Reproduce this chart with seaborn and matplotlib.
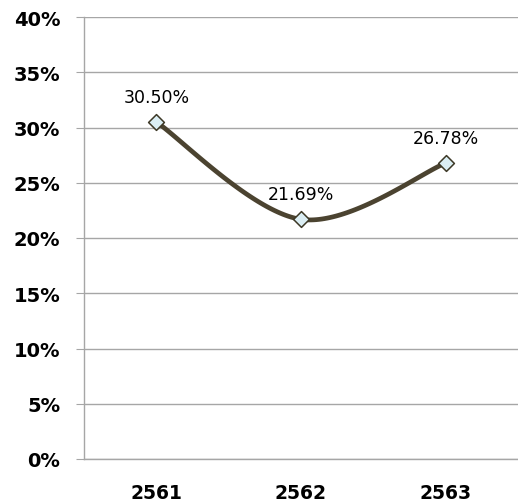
import seaborn as sns
import matplotlib.pyplot as plt
import pandas as pd
import numpy as np

sns.set_style("white")

years = ["2561", "2562", "2563"]
values = [30.50, 21.69, 26.78]
labels = ["30.50%", "21.69%", "26.78%"]

line_color = "#4b4330"
grid_color = "#a6a6a6"


def smooth(xs, ys, n=60):
    # Bezier curve through the points, similar to a spreadsheet "smoothed line"
    px = np.concatenate([[xs[0]], xs, [xs[-1]]])
    py = np.concatenate([[ys[0]], ys, [ys[-1]]])
    out_x, out_y = [], []
    t = np.linspace(0, 1, n)
    for i in range(1, len(px) - 2):
        p0 = np.array([px[i], py[i]])
        p3 = np.array([px[i + 1], py[i + 1]])
        p1 = p0 + (np.array([px[i + 1], py[i + 1]]) - np.array([px[i - 1], py[i - 1]])) / 6
        p2 = p3 - (np.array([px[i + 2], py[i + 2]]) - np.array([px[i], py[i]])) / 6
        b = ((1 - t) ** 3)[:, None] * p0 + (3 * (1 - t) ** 2 * t)[:, None] * p1 \
            + (3 * (1 - t) * t ** 2)[:, None] * p2 + (t ** 3)[:, None] * p3
        out_x.extend(b[:, 0])
        out_y.extend(b[:, 1])
    return np.array(out_x), np.array(out_y)


pos = np.arange(len(years), dtype=float)
sx, sy = smooth(pos, np.array(values))
curve = pd.DataFrame({"x": sx, "y": sy})
points = pd.DataFrame({"x": pos, "y": values})

fig = plt.figure(figsize=(5.18, 5.02), dpi=100)
ax = fig.add_axes([84 / 518, 42 / 502, 434 / 518, 442 / 502])

ax.yaxis.grid(True, color=grid_color, linewidth=1)
ax.set_axisbelow(True)

sns.lineplot(data=curve, x="x", y="y", sort=False, color=line_color,
             linewidth=3.4, ax=ax, zorder=3)
sns.scatterplot(data=points, x="x", y="y", marker="D", s=65,
                color="#dbeef4", edgecolor="#3d3826", linewidth=1.1,
                ax=ax, zorder=4)

for x, v, lab in zip(pos, values, labels):
    ax.annotate(lab, (x, v), xytext=(0, 18), textcoords="offset points",
                ha="center", va="center", fontsize=12.5, color="black")

ax.set_xlim(-0.5, 2.5)
ax.set_ylim(0, 40)
ax.set_yticks(range(0, 41, 5))
ax.set_yticklabels([f"{v}%" for v in range(0, 41, 5)],
                   fontsize=14, fontweight="bold", color="black")
ax.set_xticks(pos)
ax.set_xticklabels(years, fontsize=13.5, fontweight="bold", color="black")
ax.set_xticks([-0.5, 0.5, 1.5, 2.5], minor=True)
ax.tick_params(axis="x", which="major", length=0, pad=17)
ax.tick_params(axis="x", which="minor", length=5, color=grid_color, direction="out")
ax.tick_params(axis="y", length=6, color=grid_color, pad=11, left=True)
ax.set_xlabel("")
ax.set_ylabel("")

for s in ["top", "right"]:
    ax.spines[s].set_visible(False)
for s in ["left", "bottom"]:
    ax.spines[s].set_color(grid_color)
    ax.spines[s].set_linewidth(1)

fig.savefig("out.png", dpi=100)
plt.close(fig)
